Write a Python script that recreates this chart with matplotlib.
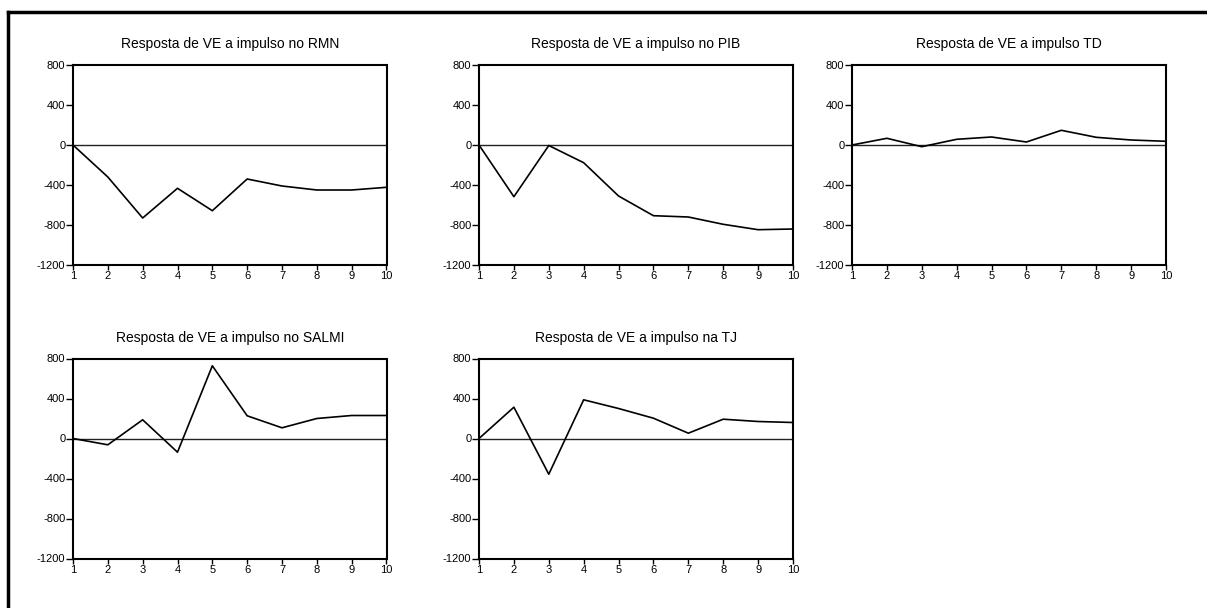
import matplotlib
matplotlib.use("Agg")
import matplotlib.pyplot as plt
from matplotlib.lines import Line2D

plt.rcParams['font.family'] = ['Liberation Sans', 'DejaVu Sans']
plt.rcParams['axes.unicode_minus'] = False

# Horizon (periods)
periods = [1, 2, 3, 4, 5, 6, 7, 8, 9, 10]

# Responses of VE to each impulse
resp_rmn = [0, -320, -730, -433, -657, -340, -410, -450, -450, -423]
resp_pib = [0, -517, -5, -177, -510, -707, -720, -793, -847, -840]
resp_td = [0, 67, -17, 57, 80, 30, 147, 77, 50, 37]
resp_salmi = [0, -63, 187, -137, 727, 227, 107, 200, 230, 230]
resp_tj = [0, 313, -357, 387, 300, 203, 53, 193, 170, 160]

titles = ["Resposta de VE a impulso no RMN",
          "Resposta de VE a impulso no PIB",
          "Resposta de VE a impulso TD",
          "Resposta de VE a impulso no SALMI",
          "Resposta de VE a impulso na TJ"]
series = [resp_rmn, resp_pib, resp_td, resp_salmi, resp_tj]

yticks = [-1200, -800, -400, 0, 400, 800]

W, H = 1207, 608
fig = plt.figure(figsize=(W / 100, H / 100), dpi=100)

# axes boxes in pixels: left, top, right, bottom
boxes = [(73, 65, 386.5, 265),
         (479, 65, 793, 265),
         (852, 65, 1166, 265),
         (73, 358.5, 386.5, 558.5),
         (479, 358.5, 793, 558.5)]

for (x0, y0, x1, y1), vals, title in zip(boxes, series, titles):
    ax = fig.add_axes([x0 / W, 1 - y1 / H, (x1 - x0) / W, (y1 - y0) / H])
    ax.axhline(0, color='#222222', lw=1.0)
    ax.plot(periods, vals, color='black', lw=1.2)
    ax.set_xlim(1, 10)
    ax.set_ylim(-1200, 800)
    ax.set_xticks(periods)
    ax.set_yticks(yticks)
    ax.tick_params(axis='y', direction='out', length=5, width=1, labelsize=8, pad=0.5)
    ax.tick_params(axis='x', direction='out', length=3.5, width=1, labelsize=8, pad=1)
    for s in ax.spines.values():
        s.set_linewidth(1.5)
    ax.set_title(title, fontsize=10, pad=12)

# outer frame (only top and left visible)
fig.add_artist(Line2D([7.5 / W, 1], [1 - 11.5 / H, 1 - 11.5 / H],
                      transform=fig.transFigure, color='black', lw=2.5))
fig.add_artist(Line2D([7.5 / W, 7.5 / W], [0, 1 - 11.5 / H],
                      transform=fig.transFigure, color='black', lw=2.5))

fig.savefig("out.png", dpi=100)
